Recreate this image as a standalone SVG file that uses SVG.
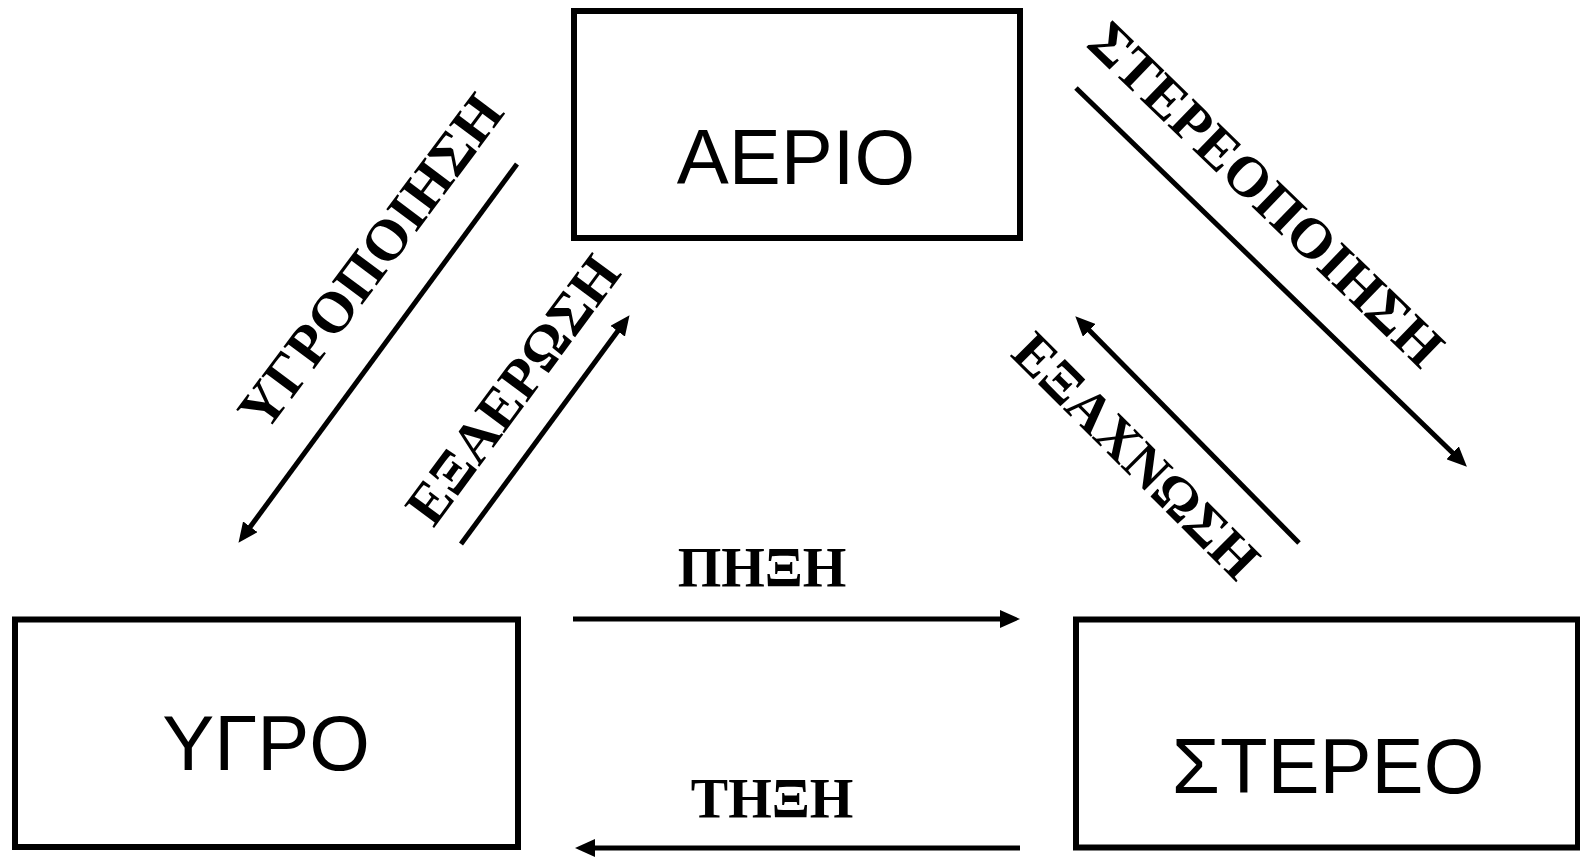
<svg xmlns="http://www.w3.org/2000/svg" width="1580" height="858" viewBox="0 0 1580 858">
  <defs>
    <marker id="arrow" viewBox="0 0 20 18" refX="9" refY="9" markerWidth="20" markerHeight="18" markerUnits="userSpaceOnUse" orient="auto">
      <path d="M0,0 L20,9 L0,18 Z" fill="#000"/>
    </marker>
    <style>
      .box { fill: #fff; stroke: #000; stroke-width: 6; }
      .state { font-family: "Liberation Sans", Arial, sans-serif; font-size: 78px; fill: #000; text-anchor: middle; }
      .proc { font-family: "Liberation Serif", "Times New Roman", serif; font-weight: bold; fill: #000; text-anchor: middle; }
      .edge { stroke: #000; stroke-width: 5; fill: none; marker-end: url(#arrow); }
    </style>
  </defs>
  <rect width="1580" height="858" fill="#fff"/>

  <!-- states of matter -->
  <g id="aerio">
    <rect class="box" x="574" y="11" width="446" height="227"/>
    <text class="state" x="796" y="184">ΑΕΡΙΟ</text>
  </g>
  <g id="ygro">
    <rect class="box" x="15" y="619.5" width="503" height="227.5"/>
    <text class="state" x="266" y="770">ΥΓΡΟ</text>
  </g>
  <g id="stereo">
    <rect class="box" x="1076" y="619.5" width="502" height="228"/>
    <text class="state" x="1328" y="793">ΣΤΕΡΕΟ</text>
  </g>

  <!-- phase transitions -->
  <g id="connectors">
    <line class="edge" x1="517" y1="164" x2="245" y2="534"/>
    <line class="edge" x1="461" y1="544" x2="623" y2="324"/>
    <line class="edge" x1="1076" y1="88" x2="1459" y2="459"/>
    <line class="edge" x1="1299" y1="543" x2="1083" y2="324"/>
    <line class="edge" x1="573" y1="619" x2="1009" y2="619"/>
    <line class="edge" x1="1020" y1="848" x2="586" y2="848"/>
  </g>

  <g id="labels">
    <text class="proc" font-size="58" transform="translate(386 273) rotate(-53.2)">ΥΓΡΟΠΟΙΗΣΗ</text>
    <text class="proc" font-size="57" transform="translate(528 401) rotate(-53.5)">ΕΞΑΕΡΩΣΗ</text>
    <text class="proc" font-size="57" transform="translate(1253 208) rotate(44)">ΣΤΕΡΕΟΠΟΙΗΣΗ</text>
    <text class="proc" font-size="56" transform="translate(1123 469) rotate(45)">ΕΞΑΧΝΩΣΗ</text>
    <text class="proc" font-size="56" x="762" y="587">ΠΗΞΗ</text>
    <text class="proc" font-size="56" x="772" y="818">ΤΗΞΗ</text>
  </g>
</svg>
